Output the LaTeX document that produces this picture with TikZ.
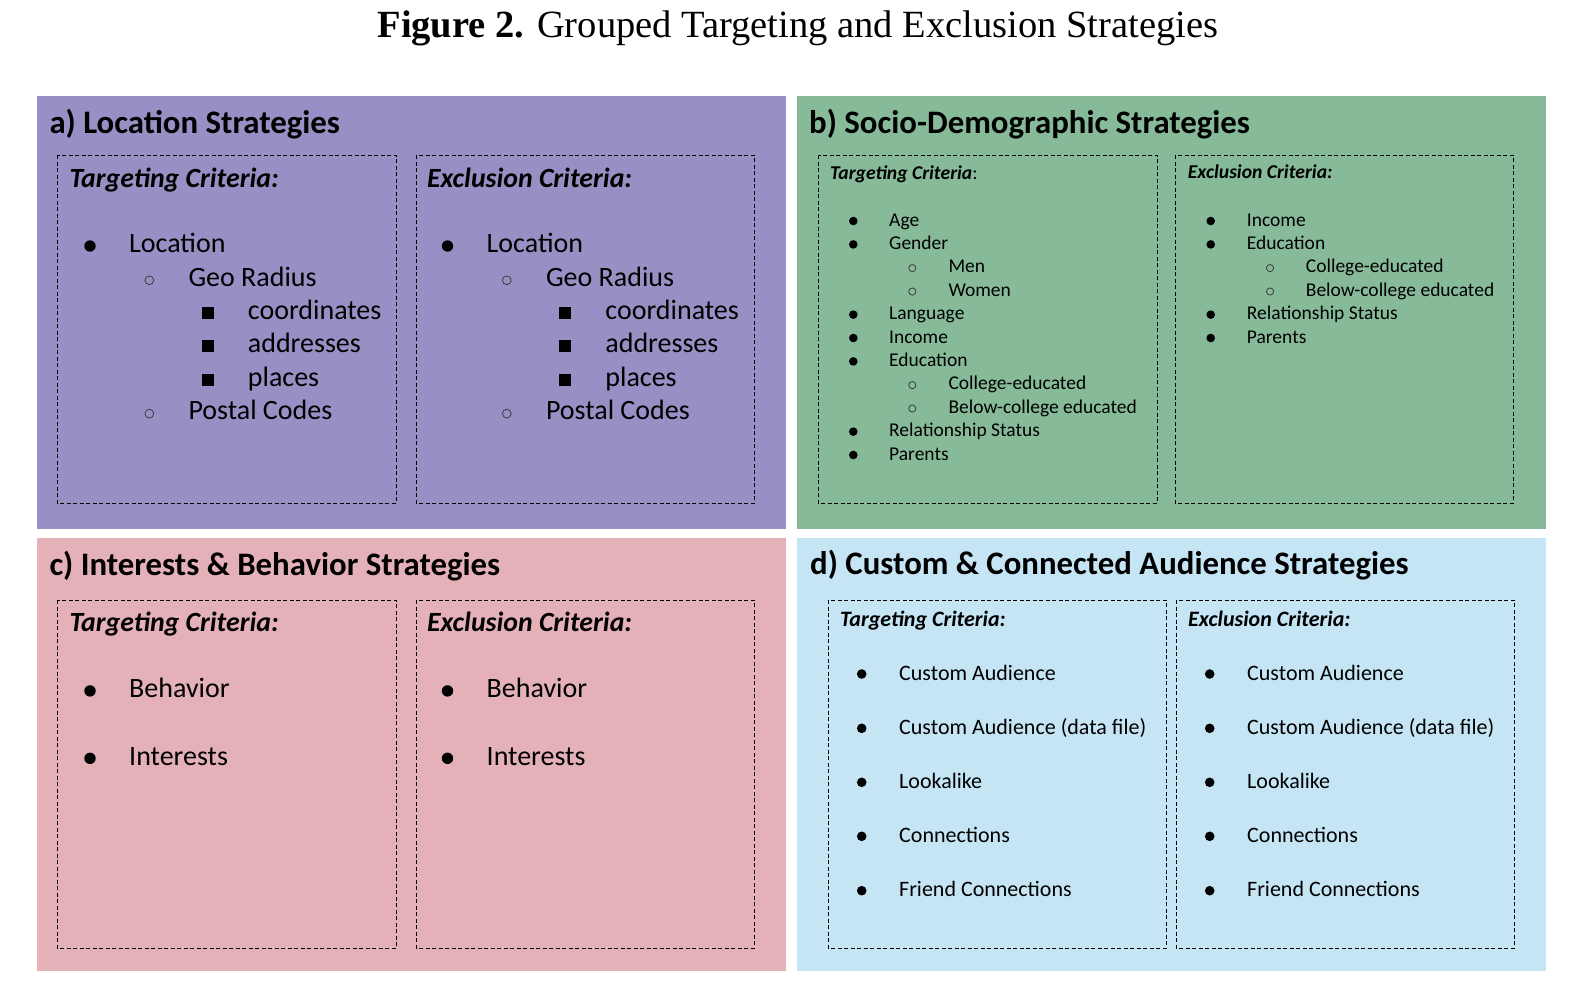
\documentclass[tikz,border=0pt]{standalone}
\usepackage{fontspec}
\setmainfont{Carlito}
\newfontfamily\titlefont{Liberation Serif}
\definecolor{pa}{RGB}{152,144,196}
\definecolor{pb}{RGB}{134,186,152}
\definecolor{pc}{RGB}{229,177,185}
\definecolor{pd}{RGB}{197,229,245}
\definecolor{ring}{RGB}{60,60,60}
\tikzset{
  ptitle/.style={anchor=base west, inner sep=0pt, font=\fontsize{32.8}{36}\selectfont\bfseries},
  hdbig/.style={anchor=base west, inner sep=0pt, font=\fontsize{27.8}{30}\selectfont\bfseries\itshape},
  hdsmall/.style={anchor=base west, inner sep=0pt, font=\fontsize{19.6}{22}\selectfont\bfseries\itshape},
  hdmid/.style={anchor=base west, inner sep=0pt, font=\fontsize{22}{24}\selectfont\bfseries\itshape},
  itbig/.style={anchor=base west, inner sep=0pt, font=\fontsize{28}{30}\selectfont},
  itsmall/.style={anchor=base west, inner sep=0pt, font=\fontsize{19.5}{22}\selectfont},
  itmid/.style={anchor=base west, inner sep=0pt, font=\fontsize{22}{24}\selectfont},
  dbox/.style={draw=black, line width=0.9pt, dash pattern=on 4pt off 2.5pt},
  ringb/.style={draw=ring, line width=0.8pt}
}
\begin{document}
\begin{tikzpicture}[x=1pt,y=-1pt]
\useasboundingbox (0,0) rectangle (1578,989);
\fill[white] (0,0) rectangle (1578,989);
% title
\node[anchor=base west, inner sep=0pt, font=\fontsize{38.5}{42}\titlefont] (title) at (377.3,37.3) {\textbf{Figure 2.} Grouped Targeting and Exclusion Strategies};
% panels
\fill[pa] (37,95.5) rectangle (786,528.5);
\fill[pb] (797,95.5) rectangle (1546,528.5);
\fill[pc] (37,537.5) rectangle (786,971);
\fill[pd] (797,537.5) rectangle (1546,971);
% dashed boxes
\draw[dbox] (57,155) rectangle (396,503);
\draw[dbox] (416,155) rectangle (754,503);
\draw[dbox] (818,155) rectangle (1157,503);
\draw[dbox] (1175,155) rectangle (1513,503);
\draw[dbox] (57,600) rectangle (396,948);
\draw[dbox] (416,600) rectangle (754,948);
\draw[dbox] (828,600) rectangle (1166,948);
\draw[dbox] (1176,600) rectangle (1514,948);
% panel titles
\node[ptitle] (ta) at (49.3,133.2) {a) Location Strategies};
\node[ptitle] (tb) at (809,133.2) {b) Socio-Demographic Strategies};
\node[ptitle] (tc) at (49.3,575) {c) Interests \& Behavior Strategies};
\node[ptitle] (td) at (810,574.8) {d) Custom \& Connected Audience Strategies};
% ---------- panel a ----------
\foreach \dx/\nm/\hd in {0/T/Targeting Criteria:, 357.5/E/Exclusion Criteria:}{
  \node[hdbig] (aH\nm) at (69.3+\dx,187) {\hd};
  \fill (90+\dx,246) circle (5.7);
  \node[itbig] (aL\nm) at (129+\dx,252.7) {Location};
  \draw[ringb] (149.3+\dx,280.3) circle (4.4);
  \node[itbig] (aG\nm) at (188.3+\dx,286) {Geo Radius};
  \foreach \y/\k/\t in {319.3/1/coordinates, 352.7/2/addresses, 386/3/places}{
    \fill (201.6+\dx,\y-12.3) rectangle (213.8+\dx,\y-0.3);
    \node[itbig] (aS\nm\k) at (247.7+\dx,\y) {\t};
  }
  \draw[ringb] (149.3+\dx,413.6) circle (4.4);
  \node[itbig] (aP\nm) at (188.3+\dx,419.3) {Postal Codes};
}
% ---------- panel c ----------
\foreach \dx/\nm/\hd in {0/T/Targeting Criteria:, 357.5/E/Exclusion Criteria:}{
  \node[hdbig] (cH\nm) at (69.3+\dx,631.5) {\hd};
  \fill (90+\dx,690.9) circle (5.7);
  \node[itbig] (cB\nm) at (129+\dx,697.6) {Behavior};
  \fill (90+\dx,758.3) circle (5.7);
  \node[itbig] (cI\nm) at (129+\dx,765) {Interests};
}
% ---------- panel b ----------
\node[hdsmall] (bHT) at (830,179.3) {Targeting Criteria\textmd{\upshape:}};
\foreach \k/\lv/\t in {0/1/Age, 1/1/Gender, 2/2/Men, 3/2/Women, 4/1/Language, 5/1/Income, 6/1/Education, 7/2/College-educated, 8/2/Below-college educated, 9/1/Relationship Status, 10/1/Parents}{
  \pgfmathsetmacro{\yy}{226+23.4*\k}
  \ifnum\lv=1
    \fill (853.3,\yy-5) circle (4.3);
    \node[itsmall] (bT\k) at (889,\yy) {\t};
  \else
    \draw[ringb] (912.3,\yy-4.7) circle (3.6);
    \node[itsmall] (bT\k) at (948.3,\yy) {\t};
  \fi
}
\node[hdsmall] (bHE) at (1187.7,178.5) {Exclusion Criteria:};
\foreach \k/\lv/\t in {0/1/Income, 1/1/Education, 2/2/College-educated, 3/2/Below-college educated, 4/1/Relationship Status, 5/1/Parents}{
  \pgfmathsetmacro{\yy}{226+23.4*\k}
  \ifnum\lv=1
    \fill (1210.7,\yy-5) circle (4.3);
    \node[itsmall] (bE\k) at (1246.7,\yy) {\t};
  \else
    \draw[ringb] (1270,\yy-4.7) circle (3.6);
    \node[itsmall] (bE\k) at (1305.7,\yy) {\t};
  \fi
}
% ---------- panel d ----------
\foreach \dx/\nm/\hd in {0/T/Targeting Criteria:, 348/E/Exclusion Criteria:}{
  \node[hdmid] (dH\nm) at (840+\dx,626) {\hd};
  \foreach \y/\k/\t in {680/1/Custom Audience, 734.3/2/Custom Audience (data file), 788.3/3/Lookalike, 842.3/4/Connections, 896.7/5/Friend Connections}{
    \fill (861.7+\dx,\y-6) circle (4.8);
    \node[itmid] (d\nm\k) at (899+\dx,\y) {\t};
  }
}
\end{tikzpicture}
\end{document}
